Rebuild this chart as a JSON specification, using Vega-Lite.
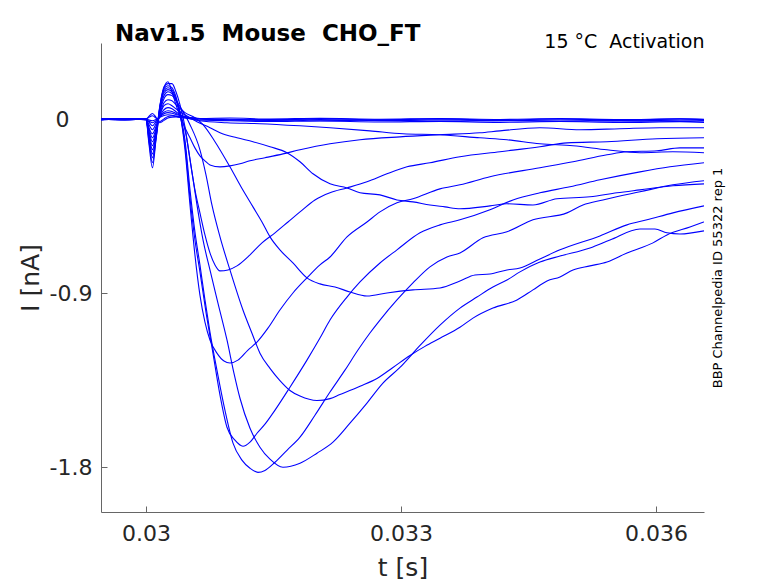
{
  "$schema": "https://vega.github.io/schema/vega-lite/v6.json",
  "width": 603,
  "height": 469,
  "autosize": {"type": "none"},
  "padding": {"left": 101, "top": 43, "right": 74, "bottom": 71},
  "background": "white",
  "title": {
    "text": "Nav1.5 \u00a0Mouse \u00a0CHO_FT",
    "anchor": "start",
    "frame": "group",
    "dx": 14,
    "fontSize": 23,
    "fontWeight": "bold",
    "font": "DejaVu Sans",
    "color": "black",
    "baseline": "alphabetic",
    "offset": -32
  },
  "datasets": {
    "traces": [
      {"s":"K1","t":0.029471,"i":0.002},{"s":"K1","t":0.029753,"i":-0.003},{"s":"K1","t":0.030000,"i":0.001},{"s":"K1","t":0.030035,"i":-0.015},{"s":"K1","t":0.030076,"i":-0.034},{"s":"K1","t":0.030118,"i":-0.012},{"s":"K1","t":0.030165,"i":0.015},{"s":"K1","t":0.030212,"i":0.036},{"s":"K1","t":0.030259,"i":0.044},{"s":"K1","t":0.030306,"i":0.040},{"s":"K1","t":0.030353,"i":0.030},{"s":"K1","t":0.030459,"i":0.014},{"s":"K1","t":0.030635,"i":0.004},{"s":"K1","t":0.030988,"i":0.000},{"s":"K1","t":0.031459,"i":-0.004},{"s":"K1","t":0.032047,"i":0.003},{"s":"K1","t":0.032753,"i":-0.003},{"s":"K1","t":0.033459,"i":0.002},{"s":"K1","t":0.034165,"i":-0.004},{"s":"K1","t":0.034871,"i":0.001},{"s":"K1","t":0.035576,"i":-0.005},{"s":"K1","t":0.036282,"i":0.002},{"s":"K1","t":0.036565,"i":-0.002},
      {"s":"K2","t":0.029471,"i":-0.004},{"s":"K2","t":0.029753,"i":0.001},{"s":"K2","t":0.030000,"i":-0.003},{"s":"K2","t":0.030035,"i":-0.010},{"s":"K2","t":0.030076,"i":-0.018},{"s":"K2","t":0.030118,"i":-0.008},{"s":"K2","t":0.030165,"i":0.012},{"s":"K2","t":0.030212,"i":0.028},{"s":"K2","t":0.030259,"i":0.034},{"s":"K2","t":0.030306,"i":0.031},{"s":"K2","t":0.030353,"i":0.024},{"s":"K2","t":0.030459,"i":0.012},{"s":"K2","t":0.030635,"i":0.002},{"s":"K2","t":0.030988,"i":-0.005},{"s":"K2","t":0.031459,"i":-0.002},{"s":"K2","t":0.032047,"i":-0.008},{"s":"K2","t":0.032753,"i":-0.004},{"s":"K2","t":0.033459,"i":-0.010},{"s":"K2","t":0.034165,"i":-0.006},{"s":"K2","t":0.034871,"i":-0.011},{"s":"K2","t":0.035576,"i":-0.007},{"s":"K2","t":0.036282,"i":-0.012},{"s":"K2","t":0.036565,"i":-0.009},
      {"s":"K3","t":0.029471,"i":0.000},{"s":"K3","t":0.029753,"i":-0.002},{"s":"K3","t":0.030000,"i":0.002},{"s":"K3","t":0.030035,"i":-0.004},{"s":"K3","t":0.030076,"i":-0.008},{"s":"K3","t":0.030118,"i":-0.002},{"s":"K3","t":0.030165,"i":0.010},{"s":"K3","t":0.030212,"i":0.019},{"s":"K3","t":0.030259,"i":0.023},{"s":"K3","t":0.030306,"i":0.021},{"s":"K3","t":0.030353,"i":0.016},{"s":"K3","t":0.030459,"i":0.006},{"s":"K3","t":0.030635,"i":-0.004},{"s":"K3","t":0.030988,"i":-0.008},{"s":"K3","t":0.031459,"i":-0.012},{"s":"K3","t":0.032047,"i":-0.009},{"s":"K3","t":0.032753,"i":-0.014},{"s":"K3","t":0.033459,"i":-0.011},{"s":"K3","t":0.034165,"i":-0.016},{"s":"K3","t":0.034871,"i":-0.012},{"s":"K3","t":0.035576,"i":-0.017},{"s":"K3","t":0.036282,"i":-0.013},{"s":"K3","t":0.036565,"i":-0.016},
      {"s":"K4","t":0.029471,"i":0.003},{"s":"K4","t":0.029753,"i":-0.001},{"s":"K4","t":0.030000,"i":0.002},{"s":"K4","t":0.030035,"i":0.010},{"s":"K4","t":0.030076,"i":0.018},{"s":"K4","t":0.030118,"i":0.006},{"s":"K4","t":0.030165,"i":-0.012},{"s":"K4","t":0.030212,"i":0.002},{"s":"K4","t":0.030259,"i":0.014},{"s":"K4","t":0.030306,"i":0.018},{"s":"K4","t":0.030353,"i":0.015},{"s":"K4","t":0.030459,"i":0.009},{"s":"K4","t":0.030635,"i":0.004},{"s":"K4","t":0.030988,"i":0.006},{"s":"K4","t":0.031459,"i":0.001},{"s":"K4","t":0.032047,"i":0.005},{"s":"K4","t":0.032753,"i":0.000},{"s":"K4","t":0.033459,"i":0.004},{"s":"K4","t":0.034165,"i":-0.001},{"s":"K4","t":0.034871,"i":0.003},{"s":"K4","t":0.035576,"i":-0.002},{"s":"K4","t":0.036282,"i":0.002},{"s":"K4","t":0.036565,"i":0.000},
      {"s":"K5","t":0.029471,"i":-0.001},{"s":"K5","t":0.029753,"i":0.002},{"s":"K5","t":0.030000,"i":-0.002},{"s":"K5","t":0.030035,"i":0.015},{"s":"K5","t":0.030076,"i":0.030},{"s":"K5","t":0.030118,"i":0.010},{"s":"K5","t":0.030165,"i":-0.018},{"s":"K5","t":0.030212,"i":-0.006},{"s":"K5","t":0.030259,"i":0.006},{"s":"K5","t":0.030306,"i":0.011},{"s":"K5","t":0.030353,"i":0.012},{"s":"K5","t":0.030459,"i":0.008},{"s":"K5","t":0.030635,"i":0.002},{"s":"K5","t":0.030988,"i":-0.003},{"s":"K5","t":0.031459,"i":-0.006},{"s":"K5","t":0.032047,"i":-0.001},{"s":"K5","t":0.032753,"i":-0.007},{"s":"K5","t":0.033459,"i":-0.003},{"s":"K5","t":0.034165,"i":-0.008},{"s":"K5","t":0.034871,"i":-0.004},{"s":"K5","t":0.035576,"i":-0.009},{"s":"K5","t":0.036282,"i":-0.005},{"s":"K5","t":0.036565,"i":-0.006},
      {"s":"H","t":0.029471,"i":0.001},{"s":"H","t":0.029753,"i":-0.003},{"s":"H","t":0.030000,"i":0.002},{"s":"H","t":0.030035,"i":-0.127},{"s":"H","t":0.030076,"i":-0.251},{"s":"H","t":0.030118,"i":-0.106},{"s":"H","t":0.030165,"i":0.049},{"s":"H","t":0.030212,"i":0.163},{"s":"H","t":0.030259,"i":0.194},{"s":"H","t":0.030306,"i":0.142},{"s":"H","t":0.030353,"i":0.075},{"s":"H","t":0.030400,"i":0.018},{"s":"H","t":0.030459,"i":-0.044},{"s":"H","t":0.030518,"i":-0.096},{"s":"H","t":0.030576,"i":-0.148},{"s":"H","t":0.030635,"i":-0.189},{"s":"H","t":0.030694,"i":-0.215},{"s":"H","t":0.030753,"i":-0.236},{"s":"H","t":0.030871,"i":-0.246},{"s":"H","t":0.030988,"i":-0.241},{"s":"H","t":0.031106,"i":-0.230},{"s":"H","t":0.031224,"i":-0.215},{"s":"H","t":0.031400,"i":-0.199},{"s":"H","t":0.031612,"i":-0.179},{"s":"H","t":0.031812,"i":-0.158},{"s":"H","t":0.032165,"i":-0.127},{"s":"H","t":0.032518,"i":-0.106},{"s":"H","t":0.032988,"i":-0.091},{"s":"H","t":0.033459,"i":-0.080},{"s":"H","t":0.033929,"i":-0.070},{"s":"H","t":0.034165,"i":-0.060},{"s":"H","t":0.034635,"i":-0.044},{"s":"H","t":0.035106,"i":-0.054},{"s":"H","t":0.035576,"i":-0.049},{"s":"H","t":0.036047,"i":-0.044},{"s":"H","t":0.036565,"i":-0.044},
      {"s":"J","t":0.029471,"i":-0.002},{"s":"J","t":0.029753,"i":0.003},{"s":"J","t":0.030000,"i":0.000},{"s":"J","t":0.030035,"i":-0.028},{"s":"J","t":0.030076,"i":-0.054},{"s":"J","t":0.030118,"i":-0.023},{"s":"J","t":0.030165,"i":0.018},{"s":"J","t":0.030212,"i":0.049},{"s":"J","t":0.030259,"i":0.060},{"s":"J","t":0.030306,"i":0.054},{"s":"J","t":0.030353,"i":0.039},{"s":"J","t":0.030400,"i":0.023},{"s":"J","t":0.030518,"i":0.003},{"s":"J","t":0.030635,"i":-0.008},{"s":"J","t":0.030953,"i":-0.018},{"s":"J","t":0.031341,"i":-0.023},{"s":"J","t":0.031812,"i":-0.034},{"s":"J","t":0.032165,"i":-0.044},{"s":"J","t":0.032635,"i":-0.060},{"s":"J","t":0.033024,"i":-0.075},{"s":"J","t":0.033459,"i":-0.080},{"s":"J","t":0.033929,"i":-0.096},{"s":"J","t":0.034247,"i":-0.106},{"s":"J","t":0.034635,"i":-0.127},{"s":"J","t":0.035024,"i":-0.137},{"s":"J","t":0.035424,"i":-0.158},{"s":"J","t":0.035812,"i":-0.173},{"s":"J","t":0.036200,"i":-0.168},{"s":"J","t":0.036565,"i":-0.173},
      {"s":"I","t":0.029471,"i":0.003},{"s":"I","t":0.029753,"i":-0.002},{"s":"I","t":0.030000,"i":0.001},{"s":"I","t":0.030035,"i":-0.044},{"s":"I","t":0.030076,"i":-0.075},{"s":"I","t":0.030118,"i":-0.039},{"s":"I","t":0.030165,"i":0.023},{"s":"I","t":0.030212,"i":0.070},{"s":"I","t":0.030259,"i":0.080},{"s":"I","t":0.030306,"i":0.070},{"s":"I","t":0.030353,"i":0.054},{"s":"I","t":0.030400,"i":0.039},{"s":"I","t":0.030518,"i":0.008},{"s":"I","t":0.030600,"i":-0.013},{"s":"I","t":0.030753,"i":-0.044},{"s":"I","t":0.030871,"i":-0.070},{"s":"I","t":0.031071,"i":-0.096},{"s":"I","t":0.031259,"i":-0.116},{"s":"I","t":0.031459,"i":-0.142},{"s":"I","t":0.031659,"i":-0.173},{"s":"I","t":0.031812,"i":-0.220},{"s":"I","t":0.031965,"i":-0.282},{"s":"I","t":0.032165,"i":-0.334},{"s":"I","t":0.032365,"i":-0.355},{"s":"I","t":0.032518,"i":-0.380},{"s":"I","t":0.032753,"i":-0.391},{"s":"I","t":0.032953,"i":-0.417},{"s":"I","t":0.033141,"i":-0.427},{"s":"I","t":0.033341,"i":-0.443},{"s":"I","t":0.033518,"i":-0.453},{"s":"I","t":0.033694,"i":-0.463},{"s":"I","t":0.034047,"i":-0.448},{"s":"I","t":0.034247,"i":-0.437},{"s":"I","t":0.034553,"i":-0.443},{"s":"I","t":0.034835,"i":-0.411},{"s":"I","t":0.035224,"i":-0.401},{"s":"I","t":0.035541,"i":-0.380},{"s":"I","t":0.035812,"i":-0.365},{"s":"I","t":0.036200,"i":-0.344},{"s":"I","t":0.036565,"i":-0.334},
      {"s":"G","t":0.029471,"i":0.000},{"s":"G","t":0.029753,"i":0.004},{"s":"G","t":0.030000,"i":-0.002},{"s":"G","t":0.030035,"i":-0.049},{"s":"G","t":0.030076,"i":-0.096},{"s":"G","t":0.030118,"i":-0.049},{"s":"G","t":0.030165,"i":0.028},{"s":"G","t":0.030212,"i":0.085},{"s":"G","t":0.030259,"i":0.101},{"s":"G","t":0.030306,"i":0.096},{"s":"G","t":0.030353,"i":0.075},{"s":"G","t":0.030459,"i":0.034},{"s":"G","t":0.030576,"i":0.008},{"s":"G","t":0.030671,"i":-0.028},{"s":"G","t":0.030812,"i":-0.116},{"s":"G","t":0.030988,"i":-0.246},{"s":"G","t":0.031118,"i":-0.349},{"s":"G","t":0.031259,"i":-0.453},{"s":"G","t":0.031365,"i":-0.531},{"s":"G","t":0.031459,"i":-0.608},{"s":"G","t":0.031576,"i":-0.675},{"s":"G","t":0.031729,"i":-0.743},{"s":"G","t":0.031894,"i":-0.820},{"s":"G","t":0.032047,"i":-0.851},{"s":"G","t":0.032224,"i":-0.867},{"s":"G","t":0.032400,"i":-0.893},{"s":"G","t":0.032600,"i":-0.914},{"s":"G","t":0.032835,"i":-0.898},{"s":"G","t":0.033141,"i":-0.882},{"s":"G","t":0.033459,"i":-0.872},{"s":"G","t":0.033694,"i":-0.836},{"s":"G","t":0.033871,"i":-0.805},{"s":"G","t":0.034047,"i":-0.800},{"s":"G","t":0.034247,"i":-0.779},{"s":"G","t":0.034400,"i":-0.769},{"s":"G","t":0.034635,"i":-0.722},{"s":"G","t":0.034871,"i":-0.675},{"s":"G","t":0.035341,"i":-0.603},{"s":"G","t":0.035659,"i":-0.546},{"s":"G","t":0.035894,"i":-0.520},{"s":"G","t":0.036200,"i":-0.484},{"s":"G","t":0.036565,"i":-0.448},
      {"s":"D","t":0.029471,"i":-0.003},{"s":"D","t":0.029753,"i":0.001},{"s":"D","t":0.030000,"i":0.003},{"s":"D","t":0.030035,"i":-0.060},{"s":"D","t":0.030076,"i":-0.116},{"s":"D","t":0.030118,"i":-0.060},{"s":"D","t":0.030165,"i":0.039},{"s":"D","t":0.030212,"i":0.106},{"s":"D","t":0.030259,"i":0.127},{"s":"D","t":0.030306,"i":0.122},{"s":"D","t":0.030353,"i":0.096},{"s":"D","t":0.030400,"i":0.065},{"s":"D","t":0.030518,"i":-0.028},{"s":"D","t":0.030635,"i":-0.158},{"s":"D","t":0.030706,"i":-0.287},{"s":"D","t":0.030776,"i":-0.443},{"s":"D","t":0.030871,"i":-0.608},{"s":"D","t":0.030988,"i":-0.779},{"s":"D","t":0.031141,"i":-0.986},{"s":"D","t":0.031247,"i":-1.106},{"s":"D","t":0.031341,"i":-1.209},{"s":"D","t":0.031459,"i":-1.288},{"s":"D","t":0.031576,"i":-1.351},{"s":"D","t":0.031694,"i":-1.402},{"s":"D","t":0.031812,"i":-1.431},{"s":"D","t":0.032012,"i":-1.454},{"s":"D","t":0.032165,"i":-1.444},{"s":"D","t":0.032282,"i":-1.423},{"s":"D","t":0.032518,"i":-1.380},{"s":"D","t":0.032718,"i":-1.340},{"s":"D","t":0.032906,"i":-1.283},{"s":"D","t":0.033106,"i":-1.221},{"s":"D","t":0.033282,"i":-1.174},{"s":"D","t":0.033459,"i":-1.132},{"s":"D","t":0.033694,"i":-1.075},{"s":"D","t":0.033847,"i":-1.028},{"s":"D","t":0.034082,"i":-0.976},{"s":"D","t":0.034365,"i":-0.934},{"s":"D","t":0.034553,"i":-0.882},{"s":"D","t":0.034718,"i":-0.836},{"s":"D","t":0.034871,"i":-0.815},{"s":"D","t":0.035024,"i":-0.779},{"s":"D","t":0.035224,"i":-0.758},{"s":"D","t":0.035424,"i":-0.738},{"s":"D","t":0.035659,"i":-0.691},{"s":"D","t":0.035965,"i":-0.639},{"s":"D","t":0.036129,"i":-0.598},{"s":"D","t":0.036400,"i":-0.557},{"s":"D","t":0.036565,"i":-0.531},
      {"s":"B","t":0.029471,"i":0.002},{"s":"B","t":0.029753,"i":-0.003},{"s":"B","t":0.030000,"i":0.000},{"s":"B","t":0.030035,"i":-0.070},{"s":"B","t":0.030076,"i":-0.137},{"s":"B","t":0.030118,"i":-0.065},{"s":"B","t":0.030165,"i":0.049},{"s":"B","t":0.030212,"i":0.122},{"s":"B","t":0.030259,"i":0.142},{"s":"B","t":0.030306,"i":0.132},{"s":"B","t":0.030353,"i":0.101},{"s":"B","t":0.030400,"i":0.039},{"s":"B","t":0.030471,"i":-0.080},{"s":"B","t":0.030541,"i":-0.272},{"s":"B","t":0.030600,"i":-0.443},{"s":"B","t":0.030671,"i":-0.624},{"s":"B","t":0.030753,"i":-0.779},{"s":"B","t":0.030847,"i":-0.950},{"s":"B","t":0.030953,"i":-1.141},{"s":"B","t":0.031035,"i":-1.312},{"s":"B","t":0.031106,"i":-1.442},{"s":"B","t":0.031224,"i":-1.597},{"s":"B","t":0.031341,"i":-1.695},{"s":"B","t":0.031459,"i":-1.757},{"s":"B","t":0.031612,"i":-1.799},{"s":"B","t":0.031812,"i":-1.778},{"s":"B","t":0.032012,"i":-1.726},{"s":"B","t":0.032200,"i":-1.669},{"s":"B","t":0.032400,"i":-1.571},{"s":"B","t":0.032600,"i":-1.467},{"s":"B","t":0.032788,"i":-1.364},{"s":"B","t":0.032988,"i":-1.283},{"s":"B","t":0.033224,"i":-1.169},{"s":"B","t":0.033459,"i":-1.064},{"s":"B","t":0.033694,"i":-0.976},{"s":"B","t":0.033894,"i":-0.919},{"s":"B","t":0.034082,"i":-0.867},{"s":"B","t":0.034247,"i":-0.831},{"s":"B","t":0.034400,"i":-0.789},{"s":"B","t":0.034635,"i":-0.738},{"s":"B","t":0.034871,"i":-0.707},{"s":"B","t":0.035224,"i":-0.665},{"s":"B","t":0.035459,"i":-0.624},{"s":"B","t":0.035812,"i":-0.567},{"s":"B","t":0.035988,"i":-0.567},{"s":"B","t":0.036129,"i":-0.587},{"s":"B","t":0.036282,"i":-0.593},{"s":"B","t":0.036565,"i":-0.577},
      {"s":"A","t":0.029471,"i":-0.001},{"s":"A","t":0.029753,"i":0.002},{"s":"A","t":0.030000,"i":-0.003},{"s":"A","t":0.030035,"i":-0.080},{"s":"A","t":0.030076,"i":-0.158},{"s":"A","t":0.030118,"i":-0.075},{"s":"A","t":0.030165,"i":0.060},{"s":"A","t":0.030212,"i":0.137},{"s":"A","t":0.030259,"i":0.153},{"s":"A","t":0.030306,"i":0.142},{"s":"A","t":0.030353,"i":0.101},{"s":"A","t":0.030400,"i":0.023},{"s":"A","t":0.030459,"i":-0.106},{"s":"A","t":0.030518,"i":-0.365},{"s":"A","t":0.030576,"i":-0.582},{"s":"A","t":0.030635,"i":-0.753},{"s":"A","t":0.030694,"i":-0.934},{"s":"A","t":0.030753,"i":-1.100},{"s":"A","t":0.030835,"i":-1.297},{"s":"A","t":0.030929,"i":-1.504},{"s":"A","t":0.031024,"i":-1.674},{"s":"A","t":0.031129,"i":-1.762},{"s":"A","t":0.031224,"i":-1.804},{"s":"A","t":0.031318,"i":-1.825},{"s":"A","t":0.031400,"i":-1.815},{"s":"A","t":0.031518,"i":-1.773},{"s":"A","t":0.031659,"i":-1.711},{"s":"A","t":0.031812,"i":-1.643},{"s":"A","t":0.031988,"i":-1.530},{"s":"A","t":0.032165,"i":-1.410},{"s":"A","t":0.032341,"i":-1.297},{"s":"A","t":0.032494,"i":-1.193},{"s":"A","t":0.032635,"i":-1.105},{"s":"A","t":0.032753,"i":-1.038},{"s":"A","t":0.032953,"i":-0.934},{"s":"A","t":0.033141,"i":-0.846},{"s":"A","t":0.033341,"i":-0.763},{"s":"A","t":0.033541,"i":-0.712},{"s":"A","t":0.033694,"i":-0.691},{"s":"A","t":0.033965,"i":-0.613},{"s":"A","t":0.034247,"i":-0.582},{"s":"A","t":0.034553,"i":-0.520},{"s":"A","t":0.034953,"i":-0.484},{"s":"A","t":0.035141,"i":-0.443},{"s":"A","t":0.035376,"i":-0.417},{"s":"A","t":0.035812,"i":-0.375},{"s":"A","t":0.036200,"i":-0.339},{"s":"A","t":0.036565,"i":-0.318},
      {"s":"C","t":0.029471,"i":0.001},{"s":"C","t":0.029753,"i":-0.002},{"s":"C","t":0.030000,"i":0.002},{"s":"C","t":0.030035,"i":-0.090},{"s":"C","t":0.030076,"i":-0.179},{"s":"C","t":0.030118,"i":-0.085},{"s":"C","t":0.030165,"i":0.070},{"s":"C","t":0.030212,"i":0.148},{"s":"C","t":0.030259,"i":0.163},{"s":"C","t":0.030306,"i":0.153},{"s":"C","t":0.030353,"i":0.106},{"s":"C","t":0.030400,"i":0.028},{"s":"C","t":0.030459,"i":-0.132},{"s":"C","t":0.030518,"i":-0.406},{"s":"C","t":0.030576,"i":-0.624},{"s":"C","t":0.030635,"i":-0.789},{"s":"C","t":0.030706,"i":-0.997},{"s":"C","t":0.030788,"i":-1.209},{"s":"C","t":0.030871,"i":-1.426},{"s":"C","t":0.030953,"i":-1.592},{"s":"C","t":0.031047,"i":-1.659},{"s":"C","t":0.031141,"i":-1.690},{"s":"C","t":0.031224,"i":-1.669},{"s":"C","t":0.031306,"i":-1.623},{"s":"C","t":0.031400,"i":-1.576},{"s":"C","t":0.031494,"i":-1.519},{"s":"C","t":0.031694,"i":-1.385},{"s":"C","t":0.031894,"i":-1.245},{"s":"C","t":0.032047,"i":-1.131},{"s":"C","t":0.032165,"i":-1.038},{"s":"C","t":0.032365,"i":-0.919},{"s":"C","t":0.032518,"i":-0.841},{"s":"C","t":0.032753,"i":-0.743},{"s":"C","t":0.032953,"i":-0.675},{"s":"C","t":0.033224,"i":-0.587},{"s":"C","t":0.033459,"i":-0.546},{"s":"C","t":0.033694,"i":-0.520},{"s":"C","t":0.034047,"i":-0.468},{"s":"C","t":0.034318,"i":-0.417},{"s":"C","t":0.034635,"i":-0.380},{"s":"C","t":0.034988,"i":-0.349},{"s":"C","t":0.035341,"i":-0.313},{"s":"C","t":0.035812,"i":-0.272},{"s":"C","t":0.036165,"i":-0.246},{"s":"C","t":0.036565,"i":-0.225},
      {"s":"E","t":0.029471,"i":-0.002},{"s":"E","t":0.029753,"i":0.003},{"s":"E","t":0.030000,"i":0.001},{"s":"E","t":0.030035,"i":-0.100},{"s":"E","t":0.030076,"i":-0.199},{"s":"E","t":0.030118,"i":-0.095},{"s":"E","t":0.030165,"i":0.075},{"s":"E","t":0.030212,"i":0.158},{"s":"E","t":0.030259,"i":0.173},{"s":"E","t":0.030306,"i":0.163},{"s":"E","t":0.030353,"i":0.116},{"s":"E","t":0.030400,"i":0.034},{"s":"E","t":0.030459,"i":-0.158},{"s":"E","t":0.030518,"i":-0.443},{"s":"E","t":0.030576,"i":-0.701},{"s":"E","t":0.030635,"i":-0.909},{"s":"E","t":0.030694,"i":-1.049},{"s":"E","t":0.030753,"i":-1.141},{"s":"E","t":0.030835,"i":-1.209},{"s":"E","t":0.030918,"i":-1.250},{"s":"E","t":0.030988,"i":-1.260},{"s":"E","t":0.031082,"i":-1.245},{"s":"E","t":0.031200,"i":-1.193},{"s":"E","t":0.031306,"i":-1.152},{"s":"E","t":0.031435,"i":-1.080},{"s":"E","t":0.031576,"i":-0.986},{"s":"E","t":0.031729,"i":-0.898},{"s":"E","t":0.031894,"i":-0.820},{"s":"E","t":0.032047,"i":-0.753},{"s":"E","t":0.032165,"i":-0.712},{"s":"E","t":0.032365,"i":-0.608},{"s":"E","t":0.032600,"i":-0.531},{"s":"E","t":0.032753,"i":-0.479},{"s":"E","t":0.032953,"i":-0.432},{"s":"E","t":0.033141,"i":-0.411},{"s":"E","t":0.033459,"i":-0.360},{"s":"E","t":0.033694,"i":-0.339},{"s":"E","t":0.034047,"i":-0.297},{"s":"E","t":0.034635,"i":-0.251},{"s":"E","t":0.035024,"i":-0.220},{"s":"E","t":0.035424,"i":-0.184},{"s":"E","t":0.035659,"i":-0.168},{"s":"E","t":0.036012,"i":-0.163},{"s":"E","t":0.036282,"i":-0.148},{"s":"E","t":0.036565,"i":-0.148},
      {"s":"F","t":0.029471,"i":0.002},{"s":"F","t":0.029753,"i":0.000},{"s":"F","t":0.030000,"i":-0.001},{"s":"F","t":0.030035,"i":-0.113},{"s":"F","t":0.030076,"i":-0.225},{"s":"F","t":0.030118,"i":-0.101},{"s":"F","t":0.030165,"i":0.065},{"s":"F","t":0.030212,"i":0.168},{"s":"F","t":0.030259,"i":0.184},{"s":"F","t":0.030306,"i":0.184},{"s":"F","t":0.030353,"i":0.142},{"s":"F","t":0.030400,"i":0.075},{"s":"F","t":0.030459,"i":-0.039},{"s":"F","t":0.030518,"i":-0.210},{"s":"F","t":0.030576,"i":-0.365},{"s":"F","t":0.030635,"i":-0.484},{"s":"F","t":0.030694,"i":-0.598},{"s":"F","t":0.030753,"i":-0.691},{"s":"F","t":0.030812,"i":-0.753},{"s":"F","t":0.030871,"i":-0.784},{"s":"F","t":0.030965,"i":-0.779},{"s":"F","t":0.031071,"i":-0.758},{"s":"F","t":0.031224,"i":-0.701},{"s":"F","t":0.031365,"i":-0.639},{"s":"F","t":0.031518,"i":-0.587},{"s":"F","t":0.031671,"i":-0.531},{"s":"F","t":0.031812,"i":-0.479},{"s":"F","t":0.031988,"i":-0.417},{"s":"F","t":0.032165,"i":-0.380},{"s":"F","t":0.032365,"i":-0.355},{"s":"F","t":0.032600,"i":-0.323},{"s":"F","t":0.032835,"i":-0.282},{"s":"F","t":0.033071,"i":-0.246},{"s":"F","t":0.033341,"i":-0.225},{"s":"F","t":0.033694,"i":-0.194},{"s":"F","t":0.034165,"i":-0.168},{"s":"F","t":0.034635,"i":-0.142},{"s":"F","t":0.034953,"i":-0.122},{"s":"F","t":0.035424,"i":-0.116},{"s":"F","t":0.036012,"i":-0.101},{"s":"F","t":0.036565,"i":-0.096}
    ]
  },
  "data": {"name": "traces"},
  "layer": [
    {
      "mark": {"type": "line", "color": "#0000ff", "strokeWidth": 1.1, "clip": true, "interpolate": "monotone"},
      "encoding": {
        "x": {
          "field": "t",
          "type": "quantitative",
          "scale": {"domain": [0.029471, 0.036565], "nice": false, "zero": false},
          "axis": {
            "orient": "bottom",
            "values": [0.03, 0.033, 0.036],
            "labelExpr": "toString(datum.value)",
            "title": "t [s]",
            "titleFontSize": 25,
            "titleFontWeight": "normal",
            "titlePadding": 11,
            "labelFontSize": 22,
            "labelPadding": 17.6,
            "tickSize": -6,
            "labelFlush": false,
            "labelOverlap": false,
            "grid": false
          }
        },
        "y": {
          "field": "i",
          "type": "quantitative",
          "scale": {"domain": [-2.03, 0.394], "nice": false, "zero": false},
          "axis": {
            "orient": "left",
            "values": [-1.8, -0.9, 0],
            "labelExpr": "toString(datum.value)",
            "title": "I [nA]",
            "titleFontSize": 25,
            "titleFontWeight": "normal",
            "titlePadding": 6,
            "labelFontSize": 22,
            "labelPadding": {"condition": {"test": "datum.value == 0", "value": 38}, "value": 15},
            "tickSize": -6,
            "labelFlush": false,
            "labelOverlap": false,
            "grid": false
          }
        },
        "detail": {"field": "s", "type": "nominal"}
      }
    },
    {
      "mark": {"type": "line", "strokeOpacity": 0},
      "encoding": {
        "x": {
          "field": "t",
          "type": "quantitative",
          "scale": {"domain": [0.029471, 0.036565], "nice": false, "zero": false},
          "axis": {
            "orient": "top",
            "domain": false,
            "ticks": false,
            "labels": false,
            "grid": false,
            "title": "15 °C \u00a0Activation",
            "titleFontSize": 19,
            "titleFontWeight": "normal",
            "titleColor": "black",
            "titleAnchor": "end",
            "titleAlign": "right",
            "titleBaseline": "alphabetic",
            "titleX": 603,
            "titleY": 4
          }
        },
        "y": {
          "field": "i",
          "type": "quantitative",
          "scale": {"domain": [-2.03, 0.394], "nice": false, "zero": false},
          "axis": {
            "orient": "right",
            "domain": false,
            "ticks": false,
            "labels": false,
            "grid": false,
            "title": "BBP Channelpedia ID 55322 rep 1",
            "titleFontSize": 13,
            "titleFontWeight": "normal",
            "titleColor": "black",
            "titleAngle": 270,
            "titleBaseline": "alphabetic",
            "titlePadding": 17
          }
        },
        "detail": {"field": "s", "type": "nominal"}
      }
    }
  ],
  "resolve": {"axis": {"x": "independent", "y": "independent"}},
  "config": {
    "font": "DejaVu Sans",
    "view": {"stroke": null},
    "axis": {
      "domainColor": "#666666",
      "tickColor": "#666666",
      "labelColor": "#262626",
      "titleColor": "#262626",
      "labelFont": "DejaVu Sans",
      "titleFont": "DejaVu Sans"
    }
  }
}
